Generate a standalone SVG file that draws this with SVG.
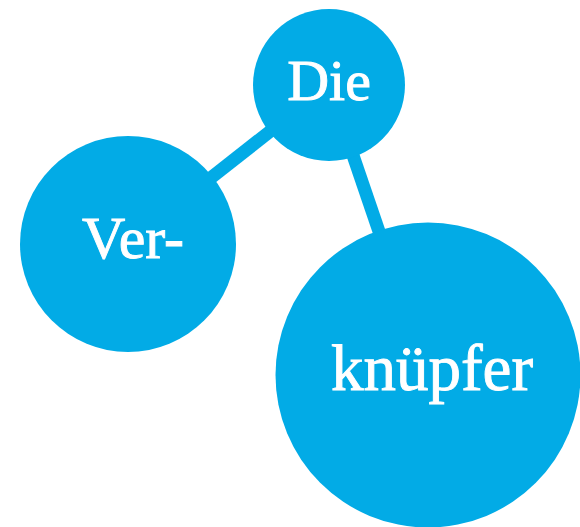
<svg xmlns="http://www.w3.org/2000/svg" width="580" height="527" viewBox="0 0 580 527">
<style>
.node{fill:#02ABE6}
.edge{stroke:#02ABE6;stroke-width:13;fill:none}
.lbl{fill:#ffffff;stroke:#ffffff;stroke-width:0.9;font-family:"Liberation Serif","DejaVu Serif",serif;text-anchor:middle}
</style>
<rect width="580" height="527" fill="#ffffff"/>
<g id="connectors">
<line class="edge" x1="128" y1="243" x2="329" y2="85"/>
<line class="edge" x1="329" y1="85" x2="428" y2="375"/>
</g>
<g id="node-die">
<circle class="node" cx="329" cy="85" r="76"/>
<text class="lbl" x="329" y="100" font-size="58">Die</text>
</g>
<g id="node-ver">
<circle class="node" cx="128" cy="244" r="108"/>
<text class="lbl" x="133" y="258" font-size="60">Ver-</text>
</g>
<g id="node-knuepfer">
<circle class="node" cx="428" cy="375" r="152.5"/>
<text class="lbl" x="432" y="390" font-size="65">knüpfer</text>
</g>
</svg>
